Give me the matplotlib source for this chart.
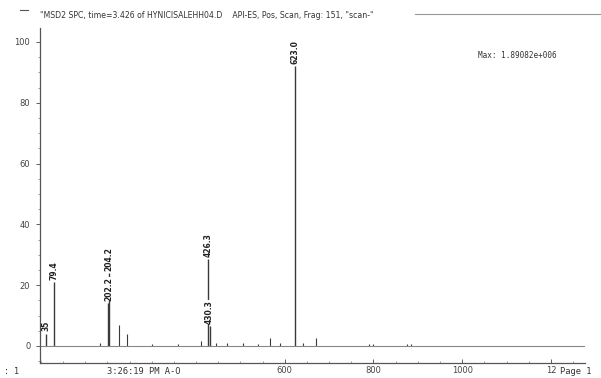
import matplotlib
matplotlib.use("Agg")
import matplotlib.pyplot as plt
from matplotlib.ticker import MultipleLocator

# labelled peaks: m/z, abundance (%), printed label
lab_mz = [61.0, 79.4, 202.2, 204.2, 426.3, 430.3, 623.0]
lab_ab = [4.0, 21.0, 14.0, 24.0, 28.5, 6.5, 92.0]
lab_txt = ["35", "79.4", "202.2", "204.2", "426.3", "430.3", "623.0"]

# small unlabelled peaks
small_mz = [183, 226, 244, 300, 360, 410, 445, 470, 505, 540, 567, 590, 640, 670, 790, 800, 875, 885]
small_ab = [1.0, 7.0, 4.0, 0.5, 0.5, 1.5, 1.0, 1.0, 1.0, 0.8, 2.5, 1.0, 1.0, 2.5, 0.6, 0.6, 0.5, 0.5]

yticks = [0, 20, 40, 60, 80, 100]
xticks = [600, 800, 1000, 1200]
xtick_txt = ["600", "800", "1000", "12"]

ink = "#3a3a3a"

fig = plt.figure(figsize=(6.01, 3.78), dpi=100)
ax = fig.add_axes([40 / 601, 1 - 363 / 378, 545 / 601, 335 / 378])

ax.set_xlim(48, 1277)
ax.set_ylim(-5.6, 104.6)

ax.vlines(small_mz, 0, small_ab, color=ink, lw=0.8)
ax.vlines(lab_mz, 0, lab_ab, color=ink, lw=1.0)
ax.axhline(0, color="#888888", lw=0.8)

for m, a, t in zip(lab_mz, lab_ab, lab_txt):
    ax.text(m, a + 0.8, t, rotation=90, ha="center", va="bottom",
            fontsize=5.5, color="#222222", fontweight="bold",
            bbox=dict(facecolor="white", edgecolor="none", pad=0.3))

for s in ["top", "right"]:
    ax.spines[s].set_visible(False)
for s in ["left", "bottom"]:
    ax.spines[s].set_color("#555555")
    ax.spines[s].set_linewidth(0.9)

ax.set_yticks(yticks)
ax.set_yticklabels([str(v) for v in yticks])
ax.yaxis.set_minor_locator(MultipleLocator(5))
ax.set_xticks(xticks)
ax.set_xticklabels(xtick_txt)
ax.xaxis.set_minor_locator(MultipleLocator(50))
ax.tick_params(axis="y", labelsize=6, colors="#444444", length=3, width=0.6, pad=4)
ax.tick_params(axis="y", which="minor", length=1.5, width=0.5, colors="#777777")
ax.tick_params(axis="x", labelsize=6, colors="#444444", direction="in", length=3, width=0.6, pad=2)
ax.tick_params(axis="x", which="minor", direction="in", length=1.5, width=0.5, colors="#777777")

# header and footer text from the printout
fig.text(40 / 601, 1 - 15 / 378,
         '"MSD2 SPC, time=3.426 of HYNICISALEHH04.D    API-ES, Pos, Scan, Frag: 151, "scan-"',
         fontsize=5.6, color="#333333", va="center", ha="left")
fig.add_artist(plt.Line2D([415 / 601, 1.0], [1 - 14 / 378, 1 - 14 / 378], color="#999999", lw=0.8))
fig.add_artist(plt.Line2D([20 / 601, 28 / 601], [1 - 10 / 378, 1 - 10 / 378], color="#555555", lw=0.8))
fig.text(478 / 601, 1 - 55 / 378, "Max: 1.89082e+006", fontsize=5.5,
         family="DejaVu Sans Mono", color="#333333", va="center", ha="left")
fig.text(4 / 601, 1 - 371 / 378, ": 1", fontsize=6, family="DejaVu Sans Mono",
         color="#333333", va="center", ha="left")
fig.text(107 / 601, 1 - 371 / 378, "3:26:19 PM A-O", fontsize=6.3, family="DejaVu Sans Mono",
         color="#333333", va="center", ha="left")
fig.text(560 / 601, 1 - 371 / 378, "Page 1", fontsize=6.3, family="DejaVu Sans Mono",
         color="#333333", va="center", ha="left")

fig.savefig("out.png", dpi=100)
